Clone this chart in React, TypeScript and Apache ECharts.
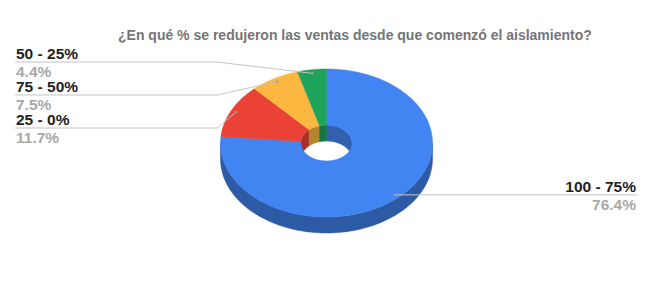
import React, { useEffect, useRef } from 'react';
import * as echarts from 'echarts';

const chartTitle = '¿En qué % se redujeron las ventas desde que comenzó el aislamiento?';
const categories = ['100 - 75%', '25 - 0%', '75 - 50%', '50 - 25%'];
const values = [76.4, 11.7, 7.5, 4.4];
const palette = ['#4285f2', '#ea4237', '#fbb740', '#1ea35b'];

// geometry (layout)
const CX = 326.5;
const CY = 143;
const RX = 106;
const RY = 74;
const RXI = 25.5;
const RYI = 17.9;
const DEPTH = 16;
const FONT = '"Liberation Sans", Arial, Helvetica, sans-serif';

function shade(hex: string, f: number): string {
  const n = parseInt(hex.slice(1), 16);
  const r = Math.round(((n >> 16) & 255) * f);
  const g = Math.round(((n >> 8) & 255) * f);
  const b = Math.round((n & 255) * f);
  return `rgb(${r},${g},${b})`;
}

function pt(t: number, rx: number, ry: number, dy = 0): number[] {
  return [CX + rx * Math.sin(t), CY - ry * Math.cos(t) + dy];
}

function arc(a0: number, a1: number, rx: number, ry: number, dy = 0): number[][] {
  const steps = Math.max(2, Math.ceil(Math.abs(a1 - a0) / (Math.PI / 180)));
  const out: number[][] = [];
  for (let i = 0; i <= steps; i++) {
    out.push(pt(a0 + ((a1 - a0) * i) / steps, rx, ry, dy));
  }
  return out;
}

function clip(a: number, b: number, lo: number, hi: number): number[] | null {
  const s = Math.max(a, lo);
  const e = Math.min(b, hi);
  return e > s ? [s, e] : null;
}

export default function App() {
  const ref = useRef<HTMLDivElement>(null);
  useEffect(() => {
    if (!ref.current) return;
    const chart = echarts.init(ref.current, null, { renderer: 'svg' });
    const total = values.reduce((a, b) => a + b, 0);
    const starts: number[] = [];
    let acc = 0;
    values.forEach((v) => {
      starts.push((acc / total) * Math.PI * 2);
      acc += v;
    });
    const mids = values.map((v, i) => starts[i] + ((v / total) * Math.PI * 2) / 2);
    const leftOrder = mids
      .map((m, i) => ({ m, i }))
      .filter((o) => Math.sin(o.m) < 0)
      .sort((a, b) => b.m - a.m)
      .map((o) => o.i);

    const renderItem = (params: any, api: any) => {
      const i = params.dataIndex;
      const v = api.value(0);
      const a0 = starts[i];
      const a1 = a0 + (v / total) * Math.PI * 2;
      const col = palette[i % palette.length];
      const children: any[] = [];
      // top face
      children.push({
        type: 'polygon',
        z2: 10,
        shape: { points: arc(a0, a1, RX, RY).concat(arc(a1, a0, RXI, RYI)) },
        style: { fill: col, stroke: col, lineWidth: 0.5 },
      });
      // outer wall (front half)
      const ow = clip(a0, a1, Math.PI / 2, (3 * Math.PI) / 2);
      if (ow) {
        children.push({
          type: 'polygon',
          z2: 1,
          shape: { points: arc(ow[0], ow[1], RX, RY).concat(arc(ow[1], ow[0], RX, RY, DEPTH)) },
          style: { fill: shade(col, 0.68), stroke: shade(col, 0.68), lineWidth: 0.5 },
        });
      }
      // inner wall (back half of the hole)
      [clip(a0, a1, 0, Math.PI / 2), clip(a0, a1, (3 * Math.PI) / 2, Math.PI * 2)].forEach((w) => {
        if (!w) return;
        children.push({
          type: 'polygon',
          z2: 2,
          shape: { points: arc(w[0], w[1], RXI, RYI).concat(arc(w[1], w[0], RXI, RYI, DEPTH)) },
          style: { fill: shade(col, 0.72), stroke: shade(col, 0.72), lineWidth: 0.5 },
        });
      });
      // label
      const mid = mids[i];
      const anchor = pt(mid, RX * 0.95, RY * 0.95);
      const name = categories[i];
      const pct = ((v / total) * 100).toFixed(1) + '%';
      let pts: number[][];
      let tx: number;
      let align: string;
      let ly: number;
      if (Math.sin(mid) >= 0) {
        ly = anchor[1];
        pts = [anchor, [637, ly]];
        tx = 636;
        align = 'right';
      } else {
        const k = leftOrder.indexOf(i);
        ly = 62 + 33 * k;
        pts = [[15, ly], [217, ly], anchor];
        tx = 16;
        align = 'left';
      }
      children.push({
        type: 'polyline',
        z2: 20,
        shape: { points: pts },
        style: { stroke: '#c4c4c4', lineWidth: 1, fill: null },
      });
      children.push({
        type: 'circle',
        z2: 21,
        shape: { cx: anchor[0], cy: anchor[1], r: 1.3 },
        style: { fill: '#9a9a9a' },
      });
      children.push({
        type: 'text',
        z2: 22,
        style: {
          text: name,
          x: tx,
          y: ly - 8.5,
          align,
          verticalAlign: 'middle',
          lineHeight: 13,
          fill: '#222222',
          font: `bold 15.5px ${FONT}`,
        },
      });
      children.push({
        type: 'text',
        z2: 22,
        style: {
          text: pct,
          x: tx,
          y: ly + 9.5,
          align,
          verticalAlign: 'middle',
          lineHeight: 13,
          fill: '#a8a8a8',
          font: `bold 15.5px ${FONT}`,
        },
      });
      return { type: 'group', children };
    };

    chart.setOption({
      animation: false,
      backgroundColor: '#ffffff',
      title: {
        text: chartTitle,
        left: 113,
        top: 23,
        textStyle: { color: '#757575', fontSize: 14, fontWeight: 'bold', fontFamily: FONT },
      },
      series: [
        {
          type: 'custom',
          coordinateSystem: 'none',
          renderItem,
          data: values.map((v, i) => ({ name: categories[i], value: [v] })),
        },
      ],
    });
    return () => chart.dispose();
  }, []);
  return (
    <div
      ref={ref}
      style={{ position: 'fixed', left: 0, top: 0, width: 650, height: 307 }}
    />
  );
}
